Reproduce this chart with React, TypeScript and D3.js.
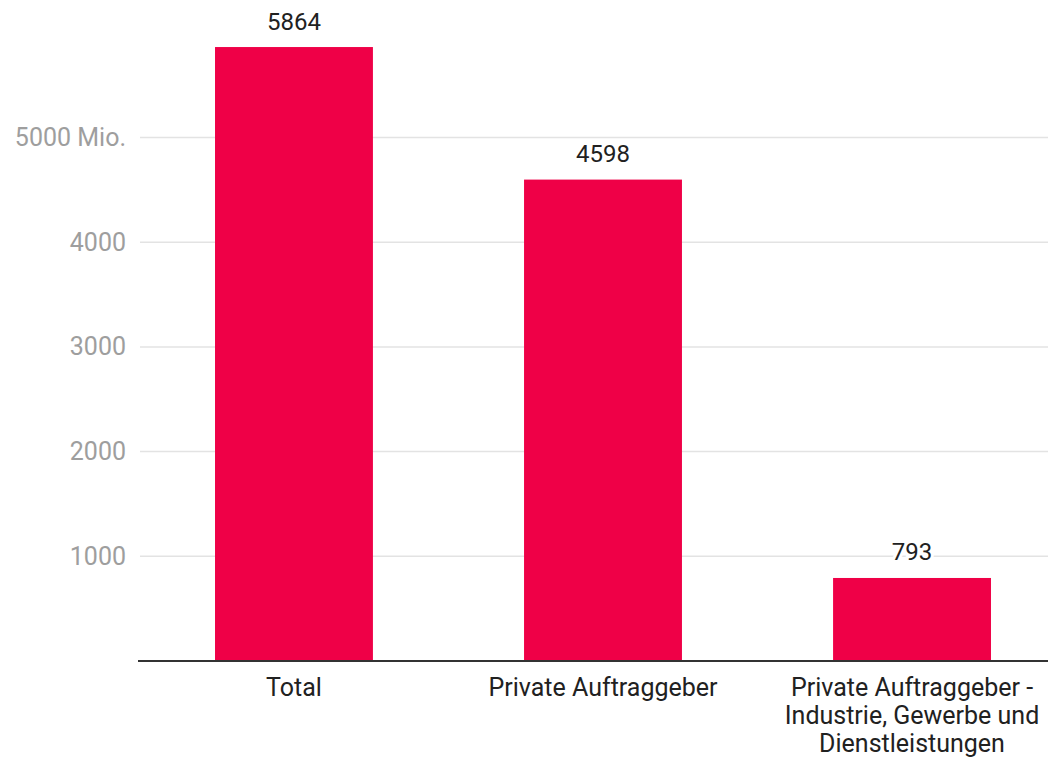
import * as d3 from "d3";

const categories = [
  "Total",
  "Private Auftraggeber",
  "Private Auftraggeber - Industrie, Gewerbe und Dienstleistungen",
];
const categoryLines = [
  ["Total"],
  ["Private Auftraggeber"],
  ["Private Auftraggeber -", "Industrie, Gewerbe und", "Dienstleistungen"],
];
const values = [5864, 4598, 793];
const yTicks = [1000, 2000, 3000, 4000, 5000];
const yTickLabels = ["1000", "2000", "3000", "4000", "5000 Mio."];

const W = 1048;
const H = 760;
const FONT = "Roboto, 'Noto Sans', sans-serif";

export default function App() {
  const y = d3.scaleLinear().domain([0, 6000]).range([661, 32.8]);
  const x = d3
    .scaleBand<string>()
    .domain(categories)
    .range([139, 1067])
    .paddingInner(0.489)
    .paddingOuter(0.246);

  return (
    <div style={{ position: "absolute", left: 0, top: 0 }}>
      <svg width={W} height={H} style={{ display: "block", fontFamily: FONT }}>
        <rect width={W} height={H} fill="#fff" />
        {/* grid + y ticks */}
        {yTicks.map((t, i) => (
          <g key={t}>
            <line x1={140} x2={W} y1={y(t)} y2={y(t)} stroke="#e3e3e3" strokeWidth={1.5} />
            <text
              x={126}
              y={y(t)}
              textAnchor="end"
              dominantBaseline="central"
              fill="#9e9e9e"
              fontSize={25}
            >
              {yTickLabels[i]}
            </text>
          </g>
        ))}

        {/* bars */}
        {categories.map((c, i) => (
          <rect
            key={c}
            x={x(c)}
            y={y(values[i])}
            width={x.bandwidth()}
            height={y(0) - y(values[i])}
            fill="#ef0047"
          />
        ))}

        {/* value labels */}
        {categories.map((c, i) => (
          <text
            key={c}
            x={(x(c) ?? 0) + x.bandwidth() / 2}
            y={y(values[i]) - 17.5}
            textAnchor="middle"
            fill="#212121"
            fontSize={24}
            stroke="#fff"
            strokeWidth={6}
            paintOrder="stroke"
          >
            {values[i]}
          </text>
        ))}

        {/* x axis */}
        <line x1={138} x2={W} y1={y(0)} y2={y(0)} stroke="#333" strokeWidth={2} />

        {/* category labels */}
        {categories.map((c, i) => (
          <text
            key={c}
            x={(x(c) ?? 0) + x.bandwidth() / 2}
            y={696}
            textAnchor="middle"
            fill="#212121"
            fontSize={25}
          >
            {categoryLines[i].map((line, j) => (
              <tspan key={j} x={(x(c) ?? 0) + x.bandwidth() / 2} dy={j === 0 ? 0 : 28}>
                {line}
              </tspan>
            ))}
          </text>
        ))}
      </svg>
    </div>
  );
}
